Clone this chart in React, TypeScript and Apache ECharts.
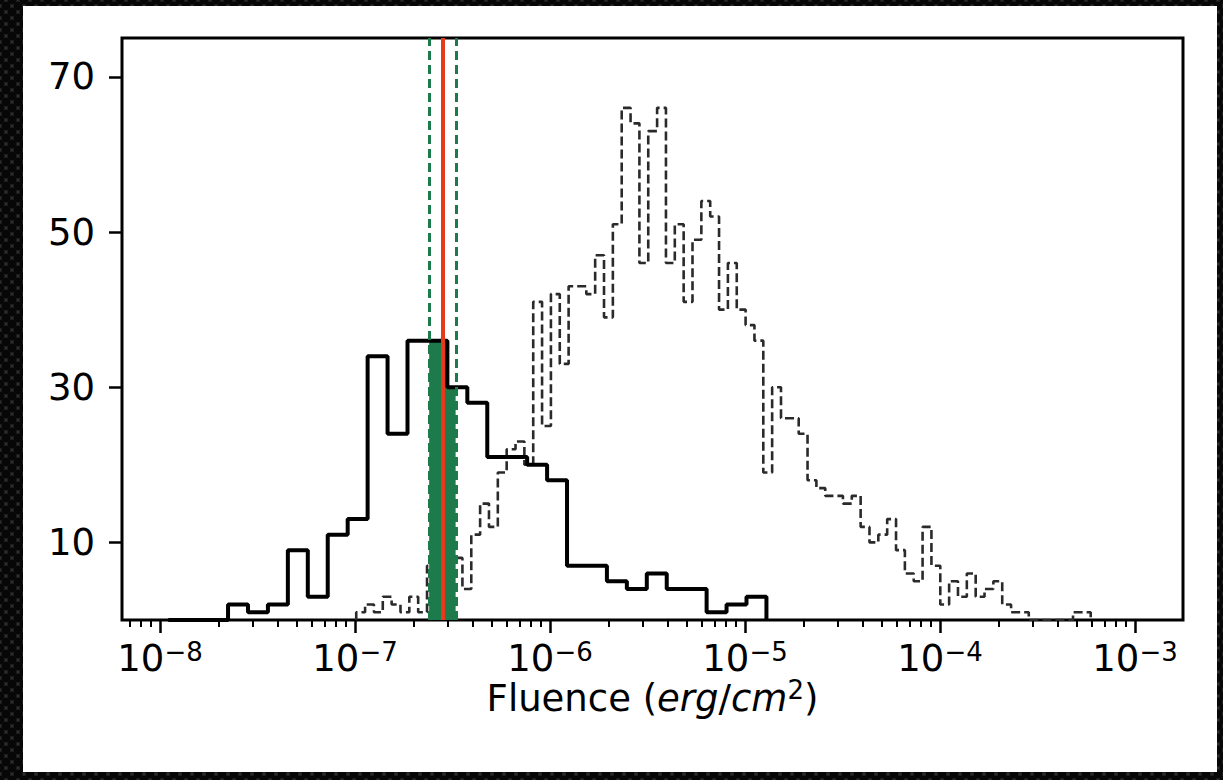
import React, { useEffect, useRef } from 'react';
import * as echarts from 'echarts';

// ---- data (x in log10 of fluence, erg/cm^2) ----
const solidLogStart = -7.958;
const solidLogWidth = 0.10226;
const solidCounts = [0, 0, 0, 2, 1, 2, 9, 3, 11, 13, 34, 24, 36, 36, 30, 28, 21, 21, 20, 18, 7, 7, 5, 4, 6, 4, 4, 1, 2, 3];

const dashedLogStart = -6.9938;
const dashedLogWidth = 0.04538;
const dashedCounts = [
  1, 2, 1, 3, 2, 1, 3, 1,
  7, 5, 9, 8,
  4, 11, 15, 12, 19, 22, 23, 20,
  41, 25, 42, 33, 43, 43, 42, 47, 39, 51, 66, 64, 46, 63, 66, 46, 51, 41, 49, 54, 52,
  40, 46, 40, 38, 36, 19, 30, 26, 26, 24, 18, 17, 16, 16, 15, 16, 12, 10,
  11, 13, 9, 6, 5, 12, 7, 2, 5, 3, 6, 3, 4, 5, 2, 1, 1,
  0, 0, 0, 0, 0,
  1, 1,
];

const credibleLow = 2.4e-7;
const credibleMedian = 2.83e-7;
const credibleHigh = 3.28e-7;

const yTicks = [10, 30, 50, 70];
const xDecades = [-8, -7, -6, -5, -4, -3];
const minorDecades = [-9, -8, -7, -6, -5, -4, -3];
const minorMultipliers = [2, 3, 4, 5, 6, 7, 8, 9];
const xMin = -8.195;
const xMax = -2.754;
const yMin = 0;
const yMax = 75;

const FONT = 'DejaVu Sans';

function stepData(start: number, width: number, counts: number[]) {
  const pts: number[][] = [[start, 0]];
  counts.forEach((c, i) => pts.push([start + i * width, c]));
  pts.push([start + counts.length * width, 0]);
  return pts;
}

function fillData(start: number, width: number, counts: number[], lo: number, hi: number) {
  const idx = (x: number) => Math.floor((x - start) / width);
  const pts: number[][] = [[lo, counts[idx(lo)]]];
  for (let i = idx(lo) + 1; i <= idx(hi); i++) pts.push([start + i * width, counts[i]]);
  pts.push([hi, counts[idx(hi)]]);
  return pts;
}

export default function App() {
  const ref = useRef<HTMLDivElement>(null);
  useEffect(() => {
    if (!ref.current) return;
    const chart = echarts.init(ref.current, undefined, { renderer: 'svg' });
    const lo = Math.log10(credibleLow);
    const hi = Math.log10(credibleHigh);
    const med = Math.log10(credibleMedian);
    const minorTicks: number[] = [];
    minorDecades.forEach((d) =>
      minorMultipliers.forEach((m) => {
        const v = d + Math.log10(m);
        if (v > xMin && v < xMax) minorTicks.push(v);
      })
    );
    const green = '#1c7a4b';
    chart.setOption({
      animation: false,
      grid: {
        left: 122, right: 40, top: 38, bottom: 160,
        show: true, borderColor: '#000', borderWidth: 3, backgroundColor: 'transparent',
      },
      xAxis: [
        {
          type: 'value', min: xMin, max: xMax, position: 'bottom',
          axisLine: { show: false }, splitLine: { show: false },
          axisTick: { show: true, customValues: xDecades, length: 13, lineStyle: { color: '#000', width: 2.5 } },
          axisLabel: {
            customValues: xDecades, margin: 13, color: '#000',
            formatter: (v: number) => `{b|10}{s|\u2212${Math.abs(Math.round(v))}}`,
            rich: {
              b: { fontSize: 37, fontFamily: FONT, color: '#000', lineHeight: 44, verticalAlign: 'bottom' },
              s: { fontSize: 26, fontFamily: FONT, color: '#000', lineHeight: 44, verticalAlign: 'top', padding: [6, 0, 0, 0] },
            },
          },
          name: '{n|Fluence (}{i|erg}{n|/}{i|cm}{s|2}{n|)}',
          nameLocation: 'middle', nameGap: 57, nameMoveOverlap: false,
          nameTextStyle: {
            rich: {
              n: { fontSize: 37, fontFamily: FONT, color: '#000', lineHeight: 40, verticalAlign: 'bottom' },
              i: { fontSize: 37, fontFamily: FONT, fontStyle: 'italic', color: '#000', lineHeight: 40, verticalAlign: 'bottom' },
              s: { fontSize: 26, fontFamily: FONT, color: '#000', lineHeight: 40, verticalAlign: 'top' },
            },
          },
        },
        {
          type: 'value', min: xMin, max: xMax, position: 'bottom', offset: 0,
          axisLine: { show: false }, splitLine: { show: false }, axisLabel: { show: false },
          axisTick: { show: true, customValues: minorTicks, length: 7, lineStyle: { color: '#000', width: 2 } },
        },
      ],
      yAxis: {
        type: 'value', min: yMin, max: yMax,
        axisLine: { show: false }, splitLine: { show: false },
        axisTick: { show: true, customValues: yTicks, length: 13, lineStyle: { color: '#000', width: 2.5 } },
        axisLabel: { customValues: yTicks, fontSize: 37, fontFamily: FONT, color: '#000', margin: 27 },
      },
      series: [
        {
          type: 'line', name: 'all', step: 'end', showSymbol: false, z: 2,
          data: stepData(dashedLogStart, dashedLogWidth, dashedCounts),
          lineStyle: { color: '#2a2a2a', width: 2.6, type: [9, 4] },
        },
        {
          type: 'line', name: 'fill', step: 'end', showSymbol: false, z: 3,
          data: fillData(solidLogStart, solidLogWidth, solidCounts, lo, hi),
          lineStyle: { width: 0 }, areaStyle: { color: green, opacity: 1 },
        },
        {
          type: 'line', name: 'sample', step: 'end', showSymbol: false, z: 4,
          data: stepData(solidLogStart, solidLogWidth, solidCounts),
          lineStyle: { color: '#000', width: 4 },
          markLine: {
            silent: true, symbol: ['none', 'none'], label: { show: false }, z: 5,
            data: [
              { xAxis: lo, lineStyle: { color: green, width: 3, type: [9, 5] } },
              { xAxis: hi, lineStyle: { color: green, width: 3, type: [9, 5] } },
              { xAxis: med, lineStyle: { color: '#e8391d', width: 4, type: 'solid' } },
            ],
          },
        },
      ],
    });
    return () => chart.dispose();
  }, []);

  return (
    <div
      style={{
        position: 'fixed', left: 0, top: 0, width: 1223, height: 780, overflow: 'hidden',
        backgroundColor: '#2e2e2e',
        backgroundImage:
          'radial-gradient(circle, #070707 0 4px, transparent 5px), radial-gradient(circle, #070707 0 4px, transparent 5px)',
        backgroundSize: '12px 12px, 12px 12px',
        backgroundPosition: '0 0, 6px 6px',
      }}
    >
      <div style={{ position: 'absolute', left: 23, top: 6, width: 1194, height: 766, background: '#fff' }} />
      <div ref={ref} style={{ position: 'absolute', left: 0, top: 0, width: 1223, height: 780 }} />
    </div>
  );
}
